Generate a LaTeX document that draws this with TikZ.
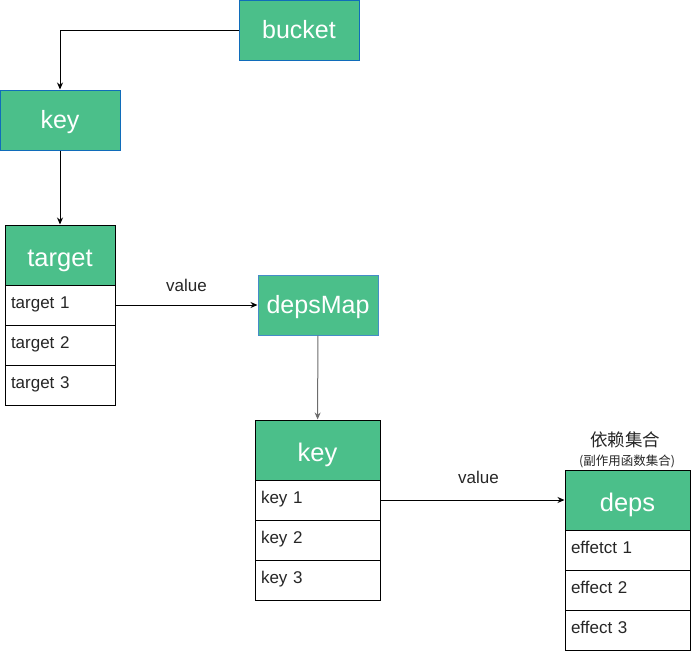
\documentclass[tikz,border=0pt]{standalone}
\usepackage{fontspec}
\setmainfont{Liberation Sans}
\newfontfamily\cjk{Noto Sans CJK SC}
\usetikzlibrary{arrows.meta}
\definecolor{boxgreen}{RGB}{75,191,138}
\definecolor{boxblue}{RGB}{16,108,186}
\definecolor{mapblue}{RGB}{70,140,200}

\begin{document}
\begin{tikzpicture}[x=1pt,y=-1pt,line width=1pt,>={Stealth[length=7pt,width=6pt]},
        box/.style={rectangle,draw=boxblue,fill=boxgreen,text=white,minimum width=120pt,minimum height=60pt,inner sep=0pt,text height=18pt,text depth=2pt,font=\fontsize{25}{30}\selectfont},
        hdr/.style={rectangle,draw=black,fill=boxgreen,text=white,minimum height=60pt,inner sep=0pt,text height=25pt,text depth=1.6pt,font=\fontsize{25.5}{30}\selectfont},
        row/.style={rectangle,draw=black,fill=white,text=black!85,minimum height=40pt,inner ysep=0pt,inner xsep=6pt,text height=12.5pt,text depth=5.9pt,align=left,font=\fontsize{17}{20}\selectfont},
        lbl/.style={text=black!85,font=\fontsize{17}{20}\selectfont}]
        \useasboundingbox (0,0) rectangle (691,654);

        \node(bucket) at (299,30) [box] {bucket};
        \node(key) at (60,120) [box] {key};

        \node(target) at (60,255) [hdr,minimum width=110pt] {target};
        \node(t1) at (60,305) [row,text width=98pt] {target 1};
        \node(t2) at (60,345) [row,text width=98pt] {target 2};
        \node(t3) at (60,385) [row,text width=98pt] {target 3};

        \node(depsMap) at (318,305) [box,draw=mapblue] {depsMap};

        \node(key2) at (317.5,450) [hdr,minimum width=125pt] {key};
        \node(k1) at (317.5,500) [row,text width=113pt] {key 1};
        \node(k2) at (317.5,540) [row,text width=113pt] {key 2};
        \node(k3) at (317.5,580) [row,text width=113pt] {key 3};

        \node(deps) at (627.5,500) [hdr,minimum width=125pt] {deps};
        \node(e1) at (627.5,550) [row,text width=113pt] {effetct 1};
        \node(e2) at (627.5,590) [row,text width=113pt] {effect 2};
        \node(e3) at (627.5,630) [row,text width=113pt] {effect 3};

        \node(setname) at (625,440) [text=black!85,font=\cjk\fontsize{17.5}{20}\selectfont] {依赖集合};
        \node(setnote) at (627,461) [text=black!85,font=\cjk\fontsize{12.5}{14}\selectfont] {(副作用函数集合)};

        \draw [->] (bucket) -| (key);
        \draw [->] (key) -- (target);
        \draw [->] (t1) -- node[lbl,midway,above=10pt] {value} (depsMap);
        \draw [->,draw=gray!85!black] (depsMap) -- (key2);
        \draw [->] (k1) -- node[lbl,midway,above=13pt,xshift=6pt] {value} (deps);
    \end{tikzpicture}
\end{document}
